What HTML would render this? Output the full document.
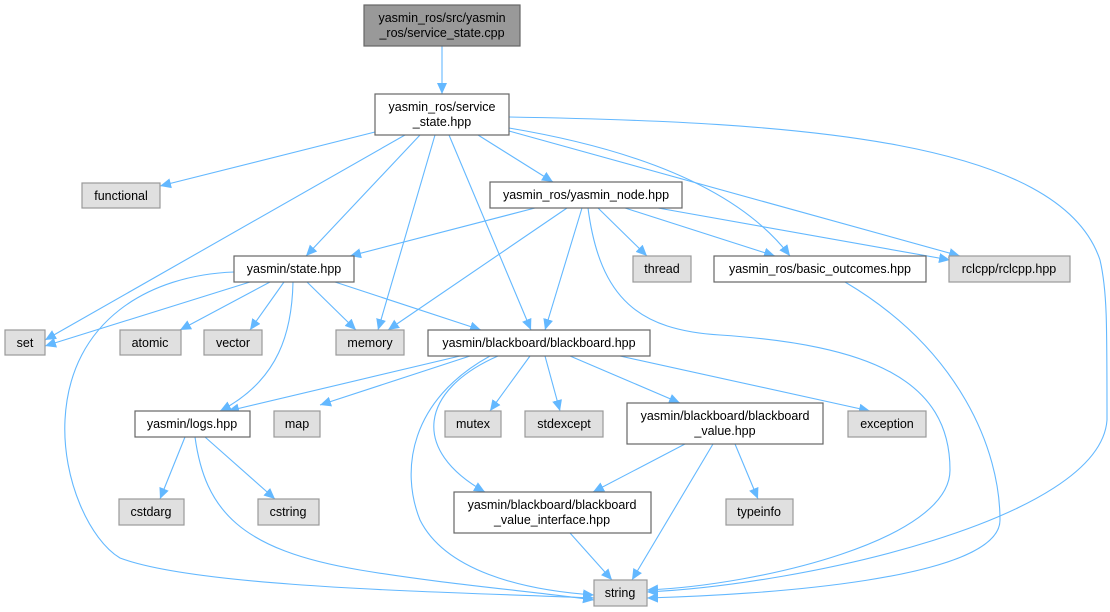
<!DOCTYPE html>
<html><head><meta charset="utf-8"><style>
html,body{margin:0;padding:0;background:#fff;}
svg{display:block;}
text{font-family:"Liberation Sans",sans-serif;font-size:12.5px;fill:#000;text-anchor:middle;}
.e{fill:none;stroke:#63b8ff;stroke-width:1.1;marker-end:url(#a);}
.w{fill:#fff;stroke:#666;stroke-width:1.2;}
.g{fill:#e0e0e0;stroke:#999;stroke-width:1.2;}
</style></head><body>
<svg width="1110" height="612" viewBox="0 0 1110 612">
<defs><marker id="a" markerUnits="userSpaceOnUse" markerWidth="12" markerHeight="10" refX="11" refY="5" orient="auto"><path d="M0,0 L11,5 L0,10 z" fill="#63b8ff"/></marker></defs>
<g>
<path class="e" d="M442,46 L442,94"/>
<path class="e" d="M375,132 L160,186"/>
<path class="e" d="M405,135 L45,340"/>
<path class="e" d="M420,135 L306,256"/>
<path class="e" d="M435,135 L378,330"/>
<path class="e" d="M449,135 L531,330"/>
<path class="e" d="M478,135 L553,182"/>
<path class="e" d="M509,128 C640,150 740,190 790,256"/>
<path class="e" d="M509,131 L960,256"/>
<path class="e" d="M509,117 C800,122 1060,140 1100,260 C1107,290 1107,320 1107,420 C1100,520 800,585 647,592"/>
<path class="e" d="M535,208 L350,256"/>
<path class="e" d="M567,208 L388,330"/>
<path class="e" d="M582,208 L545,330"/>
<path class="e" d="M598,208 L647,256"/>
<path class="e" d="M625,208 L775,256"/>
<path class="e" d="M658,208 L950,260"/>
<path class="e" d="M588,208 C600,300 640,330 720,335 C870,345 950,380 950,470 C950,540 760,585 647,590"/>
<path class="e" d="M845,282 C960,350 1000,450 1000,520 C1000,580 760,595 647,598"/>
<path class="e" d="M250,282 L45,346"/>
<path class="e" d="M270,282 L180,330"/>
<path class="e" d="M284,282 L250,330"/>
<path class="e" d="M307,282 L356,330"/>
<path class="e" d="M335,282 L481,330"/>
<path class="e" d="M293,282 C292,330 280,380 220,411"/>
<path class="e" d="M234,272 C150,275 70,320 65,420 C62,480 90,540 120,558 C200,588 450,592 594,598"/>
<path class="e" d="M460,356 L228,411"/>
<path class="e" d="M470,356 L320,405"/>
<path class="e" d="M530,356 L490,411"/>
<path class="e" d="M545,356 L560,411"/>
<path class="e" d="M570,356 L680,403"/>
<path class="e" d="M620,356 L870,411"/>
<path class="e" d="M498,356 C420,390 410,450 485,492"/>
<path class="e" d="M490,356 C410,400 400,470 420,520 C445,570 520,590 594,595"/>
<path class="e" d="M185,437 L160,499"/>
<path class="e" d="M205,437 L275,499"/>
<path class="e" d="M195,437 C205,510 240,550 360,570 C450,585 540,592 594,600"/>
<path class="e" d="M685,444 L593,492"/>
<path class="e" d="M735,444 L758,499"/>
<path class="e" d="M713,444 L632,580"/>
<path class="e" d="M570,533 L612,580"/>
</g>
<rect x="364" y="5" width="156" height="41" fill="#999" stroke="#666" stroke-width="1.2"/>
<text x="442" y="22">yasmin_ros/src/yasmin</text><text x="442" y="37">_ros/service_state.cpp</text>
<rect class="w" x="375" y="94" width="134" height="41"/>
<text x="442" y="111">yasmin_ros/service</text><text x="442" y="126">_state.hpp</text>
<rect class="g" x="82" y="183" width="78" height="25"/><text x="121" y="200">functional</text>
<rect class="w" x="490" y="182" width="192" height="26"/><text x="586" y="199">yasmin_ros/yasmin_node.hpp</text>
<rect class="w" x="234" y="256" width="120" height="26"/><text x="294" y="273">yasmin/state.hpp</text>
<rect class="g" x="633" y="256" width="58" height="26"/><text x="662" y="273">thread</text>
<rect class="w" x="714" y="256" width="212" height="26"/><text x="820" y="273">yasmin_ros/basic_outcomes.hpp</text>
<rect class="g" x="949" y="256" width="121" height="26"/><text x="1009" y="273">rclcpp/rclcpp.hpp</text>
<rect class="g" x="5" y="330" width="40" height="25"/><text x="25" y="347">set</text>
<rect class="g" x="120" y="330" width="61" height="25"/><text x="150" y="347">atomic</text>
<rect class="g" x="204" y="330" width="58" height="25"/><text x="233" y="347">vector</text>
<rect class="g" x="336" y="330" width="68" height="25"/><text x="370" y="347">memory</text>
<rect class="w" x="428" y="330" width="222" height="26"/><text x="539" y="347">yasmin/blackboard/blackboard.hpp</text>
<rect class="w" x="135" y="411" width="115" height="26"/><text x="192" y="428">yasmin/logs.hpp</text>
<rect class="g" x="274" y="411" width="46" height="26"/><text x="297" y="428">map</text>
<rect class="g" x="445" y="411" width="56" height="26"/><text x="473" y="428">mutex</text>
<rect class="g" x="525" y="411" width="78" height="26"/><text x="564" y="428">stdexcept</text>
<rect class="w" x="627" y="403" width="196" height="41"/>
<text x="725" y="420">yasmin/blackboard/blackboard</text><text x="725" y="435">_value.hpp</text>
<rect class="g" x="848" y="411" width="78" height="26"/><text x="887" y="428">exception</text>
<rect class="g" x="119" y="499" width="65" height="26"/><text x="151" y="516">cstdarg</text>
<rect class="g" x="258" y="499" width="61" height="26"/><text x="288" y="516">cstring</text>
<rect class="w" x="454" y="492" width="197" height="41"/>
<text x="552" y="509">yasmin/blackboard/blackboard</text><text x="552" y="524">_value_interface.hpp</text>
<rect class="g" x="726" y="499" width="67" height="26"/><text x="759" y="516">typeinfo</text>
<rect class="g" x="594" y="580" width="53" height="26"/><text x="620" y="597">string</text>
</svg>
</body></html>
